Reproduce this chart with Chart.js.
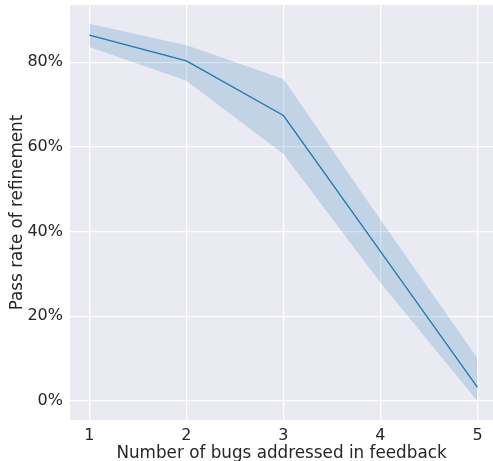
<!DOCTYPE html>
<html>
<head>
<meta charset="utf-8">
<script src="https://cdn.jsdelivr.net/npm/chart.js@4.4.1/dist/chart.umd.min.js"></script>
<style>
html,body{margin:0;padding:0;overflow:hidden;background:#ffffff;}
#wrap{width:493px;height:461px;}
</style>
</head>
<body>
<div id="wrap"><canvas id="c" width="493" height="461"></canvas></div>
<script>
const bugs = [1, 2, 3, 4, 5];
const passMean = [0.864, 0.803, 0.674, 0.353, 0.032];
const ciUpper = [0.891, 0.840, 0.760, 0.428, 0.101];
const ciLower = [0.836, 0.756, 0.583, 0.279, 0.000];
const yTicks = [0, 0.2, 0.4, 0.6, 0.8];
const xTicks = [1, 2, 3, 4, 5];

const pts = arr => bugs.map((b, i) => ({x: b, y: arr[i]}));

const bgPlugin = {
  id: 'bg',
  beforeDraw(chart) {
    const {ctx, chartArea: a} = chart;
    ctx.save();
    ctx.fillStyle = '#EAEAF2';
    ctx.fillRect(a.left, a.top, chart.width - a.left, a.bottom - a.top);
    ctx.restore();
  }
};

const font = {family: '"DejaVu Sans", sans-serif', size: 16};
const tfont = {family: '"DejaVu Sans", sans-serif', size: 16.8, lineHeight: 1.2};

new Chart(document.getElementById('c'), {
  type: 'line',
  data: {
    datasets: [
      {data: pts(ciUpper), borderWidth: 0, pointRadius: 0, fill: '+1',
       backgroundColor: 'rgba(31,119,180,0.2)', borderColor: 'rgba(0,0,0,0)', tension: 0},
      {data: pts(ciLower), borderWidth: 0, pointRadius: 0, fill: false,
       borderColor: 'rgba(0,0,0,0)', tension: 0},
      {data: pts(passMean), borderWidth: 1.3, pointRadius: 0, fill: false,
       borderColor: '#1f77b4', tension: 0}
    ]
  },
  options: {
    responsive: false,
    animation: false,
    layout: {padding: {top: 5, right: 0, left: 0, bottom: 0}},
    plugins: {legend: {display: false}, tooltip: {enabled: false}},
    scales: {
      x: {
        type: 'linear', min: 0.8, max: 5.16,
        afterBuildTicks: s => { s.ticks = xTicks.map(v => ({value: v})); },
        afterFit: s => { s.height = 41; s.paddingLeft = 0; s.paddingRight = 0; },
        grid: {color: '#ffffff', lineWidth: 1.3, drawTicks: false},
        border: {display: false},
        ticks: {font: font, color: '#262626', padding: 6, callback: v => String(v)},
        title: {display: true, text: 'Number of bugs addressed in feedback', font: tfont, color: '#262626', padding: {top: 0, bottom: -3}}
      },
      y: {
        type: 'linear', min: -0.045, max: 0.935,
        afterBuildTicks: s => { s.ticks = yTicks.map(v => ({value: v})); },
        afterFit: s => { s.width = 70; s.paddingTop = 0; s.paddingBottom = 0; },
        grid: {color: '#ffffff', lineWidth: 1.3, drawTicks: false},
        border: {display: false},
        ticks: {font: font, color: '#262626', padding: 7, callback: v => Math.round(v * 100) + '%'},
        title: {display: true, text: 'Pass rate of refinement', font: tfont, color: '#262626', padding: {top: 8, bottom: 0}}
      }
    }
  },
  plugins: [bgPlugin]
});
</script>
</body>
</html>
